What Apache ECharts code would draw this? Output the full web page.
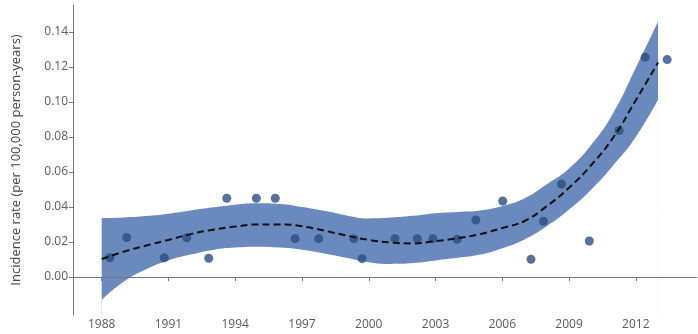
<!DOCTYPE html>
<html>
<head>
<meta charset="utf-8">
<script src="https://cdn.jsdelivr.net/npm/echarts@6/dist/echarts.min.js"></script>
<style>
  html, body { margin: 0; padding: 0; background: #fff; }
  #chart { width: 698px; height: 334px; }
</style>
</head>
<body>
<div id="chart"></div>
<script>
// observed points (year, rate)
const pointYears = [1988.37, 1989.12, 1990.81, 1991.82, 1992.81, 1993.62, 1994.95, 1995.80, 1996.69, 1997.75,
  1999.33, 1999.70, 2001.18, 2002.18, 2002.88, 2003.97, 2004.81, 2006.02, 2007.29, 2007.85,
  2008.66, 2009.91, 2011.25, 2012.42, 2013.41];
const pointRates = [0.0110, 0.0226, 0.0110, 0.0224, 0.0107, 0.0450, 0.0450, 0.0450, 0.0219, 0.0219,
  0.0219, 0.0105, 0.0219, 0.0219, 0.0219, 0.0216, 0.0326, 0.0434, 0.0101, 0.0318,
  0.0531, 0.0206, 0.0837, 0.1256, 0.1242];

// smoothed fit and confidence band
const fitYears = [1988, 1989, 1990, 1991, 1992, 1993, 1994, 1995, 1996, 1997, 1998, 1999, 2000,
  2001, 2002, 2003, 2004, 2005, 2006, 2007, 2008, 2009, 2010, 2011, 2012, 2013];
const fitRate = [0.0103, 0.0145, 0.0180, 0.0212, 0.0245, 0.0270, 0.0288, 0.0300, 0.0300, 0.0290, 0.0265, 0.0237, 0.0212,
  0.0197, 0.0192, 0.0205, 0.0222, 0.0245, 0.0280, 0.0320, 0.0405, 0.0510, 0.0640, 0.0800, 0.1010, 0.1225];
const bandUpper = [0.0337, 0.0340, 0.0348, 0.0362, 0.0380, 0.0398, 0.0413, 0.0421, 0.0417, 0.0400, 0.0378, 0.0352, 0.0335,
  0.0340, 0.0350, 0.0365, 0.0372, 0.0380, 0.0405, 0.0450, 0.0530, 0.0620, 0.0755, 0.0940, 0.1195, 0.1458];
const bandLower = [-0.0130, -0.0025, 0.0045, 0.0095, 0.0128, 0.0155, 0.0168, 0.0173, 0.0168, 0.0156, 0.0135, 0.0110, 0.0085,
  0.0075, 0.0080, 0.0095, 0.0110, 0.0128, 0.0165, 0.0215, 0.0290, 0.0385, 0.0500, 0.0640, 0.0800, 0.1012];

const xTicks = [1988, 1991, 1994, 1997, 2000, 2003, 2006, 2009, 2012];
const yTicks = [0, 0.02, 0.04, 0.06, 0.08, 0.10, 0.12, 0.14];

const chart = echarts.init(document.getElementById('chart'));
const axisColor = '#777';
const labelColor = '#5a5a5a';

chart.setOption({
  animation: false,
  grid: { left: 73, right: 1, top: 5, bottom: 19 },
  xAxis: {
    type: 'value',
    min: 1986.71,
    max: 2014.75,
    z: 5,
    splitLine: { show: false },
    axisLine: { lineStyle: { color: axisColor, width: 1 } },
    axisTick: { show: true, length: 4, customValues: xTicks, lineStyle: { color: axisColor } },
    axisLabel: {
      customValues: xTicks, margin: 4, color: labelColor, fontSize: 12,
      fontFamily: 'Open Sans',
      formatter: v => String(v)
    }
  },
  yAxis: {
    type: 'value',
    min: -0.0217,
    max: 0.1554,
    z: 5,
    name: 'Incidence rate (per 100,000 person-years)',
    nameLocation: 'middle',
    nameGap: 50,
    nameTextStyle: { color: '#444', fontSize: 13, fontFamily: 'Open Sans' },
    splitLine: { show: false },
    axisLine: { show: true, lineStyle: { color: axisColor, width: 1 } },
    axisTick: { show: true, length: 4, customValues: yTicks, lineStyle: { color: axisColor } },
    axisLabel: {
      customValues: yTicks, margin: 5, color: labelColor, fontSize: 12,
      fontFamily: 'Open Sans',
      formatter: v => v.toFixed(2)
    }
  },
  series: [
    {
      // upper edge of the band, filled down to the bottom
      type: 'line',
      symbol: 'none',
      smooth: true,
      lineStyle: { width: 0 },
      areaStyle: { color: '#6a8abe', opacity: 1, origin: 'start' },
      data: fitYears.map((y, i) => [y, bandUpper[i]]),
      z: 1
    },
    {
      // lower edge of the band, white mask below it
      type: 'line',
      symbol: 'none',
      smooth: true,
      lineStyle: { width: 0 },
      areaStyle: { color: '#ffffff', opacity: 1, origin: 'start' },
      data: fitYears.map((y, i) => [y, bandLower[i]]),
      z: 2
    },
    {
      type: 'scatter',
      symbolSize: 9,
      itemStyle: { color: '#2c4c80' },
      data: pointYears.map((y, i) => [y, pointRates[i]]),
      z: 3
    },
    {
      type: 'line',
      symbol: 'none',
      smooth: true,
      lineStyle: { color: '#111', width: 2, type: [7, 4] },
      data: fitYears.map((y, i) => [y, fitRate[i]]),
      z: 4
    }
  ]
});
</script>
</body>
</html>
